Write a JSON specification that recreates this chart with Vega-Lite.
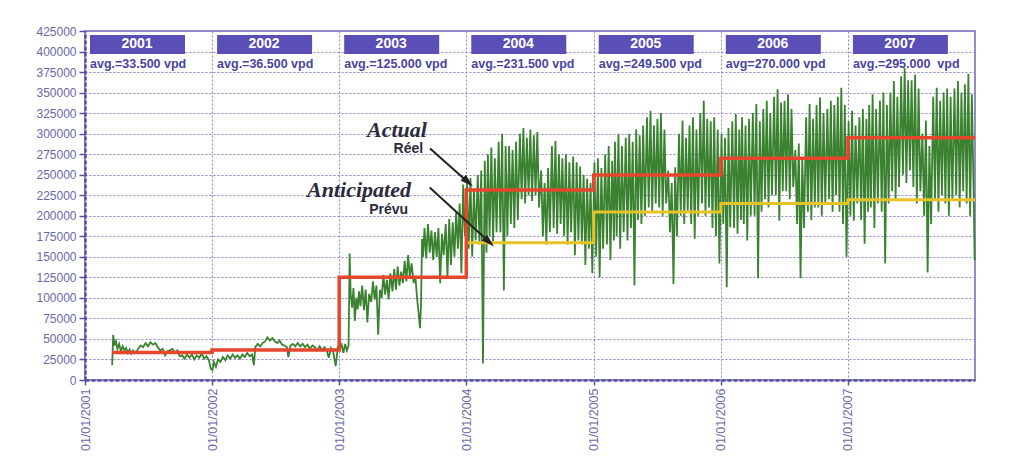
{
  "$schema": "https://vega.github.io/schema/vega-lite/v6.json",
  "width": 890,
  "height": 349,
  "autosize": {"type": "none"},
  "padding": {"left": 85, "top": 31, "right": 49, "bottom": 92},
  "background": "#ffffff",
  "config": {
    "font": "Liberation Sans",
    "view": {"stroke": "#6c68b0", "strokeWidth": 1.5},
    "axisY": {
      "labelOverlap": false, "labelFlush": false,
      "labelFontSize": 12, "labelColor": "#6a68a8", "labelPadding": 3,
      "tickSize": 6, "tickColor": "#5550a0", "tickWidth": 1.5,
      "domainColor": "#5550a0", "domainWidth": 2.5, "domainDash": [4, 2],
      "gridColor": "#8a86c8", "gridDash": [2, 2], "gridWidth": 1
    }
  },
  "datasets": {
    "traffic": [
      {"d":"2001-03-20","v":18000},{"d":"2001-03-23","v":55000},{"d":"2001-03-27","v":42000},{"d":"2001-03-31","v":47000},
      {"d":"2001-04-04","v":38000},{"d":"2001-04-09","v":44000},{"d":"2001-04-14","v":35000},{"d":"2001-04-19","v":41000},{"d":"2001-04-24","v":36000},{"d":"2001-04-29","v":39000},
      {"d":"2001-05-04","v":33000},{"d":"2001-05-09","v":37000},{"d":"2001-05-14","v":32000},{"d":"2001-05-19","v":36000},{"d":"2001-05-24","v":33000},{"d":"2001-05-29","v":35000},
      {"d":"2001-06-03","v":38000},{"d":"2001-06-10","v":42000},{"d":"2001-06-17","v":40000},{"d":"2001-06-24","v":45000},
      {"d":"2001-07-01","v":41000},{"d":"2001-07-08","v":46000},{"d":"2001-07-15","v":43000},{"d":"2001-07-22","v":45000},{"d":"2001-07-29","v":40000},
      {"d":"2001-08-05","v":36000},{"d":"2001-08-12","v":38000},{"d":"2001-08-19","v":30000},{"d":"2001-08-26","v":35000},
      {"d":"2001-09-02","v":36000},{"d":"2001-09-09","v":38000},{"d":"2001-09-16","v":33000},{"d":"2001-09-23","v":36000},{"d":"2001-09-30","v":29000},
      {"d":"2001-10-07","v":30000},{"d":"2001-10-14","v":26000},{"d":"2001-10-21","v":31000},{"d":"2001-10-28","v":27000},
      {"d":"2001-11-04","v":31000},{"d":"2001-11-11","v":25000},{"d":"2001-11-18","v":30000},{"d":"2001-11-25","v":27000},
      {"d":"2001-12-02","v":32000},{"d":"2001-12-09","v":26000},{"d":"2001-12-16","v":29000},{"d":"2001-12-23","v":24000},{"d":"2001-12-28","v":14000},
      {"d":"2002-01-02","v":12000},{"d":"2002-01-06","v":22000},{"d":"2002-01-12","v":16000},{"d":"2002-01-18","v":25000},{"d":"2002-01-25","v":22000},
      {"d":"2002-02-01","v":28000},{"d":"2002-02-08","v":24000},{"d":"2002-02-15","v":30000},{"d":"2002-02-22","v":26000},
      {"d":"2002-03-01","v":31000},{"d":"2002-03-08","v":27000},{"d":"2002-03-15","v":30000},{"d":"2002-03-22","v":26000},{"d":"2002-03-29","v":31000},
      {"d":"2002-04-05","v":28000},{"d":"2002-04-12","v":33000},{"d":"2002-04-19","v":29000},{"d":"2002-04-26","v":31000},
      {"d":"2002-05-01","v":18000},{"d":"2002-05-05","v":40000},{"d":"2002-05-12","v":44000},{"d":"2002-05-19","v":41000},{"d":"2002-05-26","v":45000},
      {"d":"2002-06-02","v":47000},{"d":"2002-06-09","v":52000},{"d":"2002-06-16","v":48000},{"d":"2002-06-23","v":51000},{"d":"2002-06-30","v":47000},
      {"d":"2002-07-07","v":45000},{"d":"2002-07-14","v":48000},{"d":"2002-07-21","v":43000},{"d":"2002-07-28","v":42000},
      {"d":"2002-08-04","v":40000},{"d":"2002-08-08","v":28000},{"d":"2002-08-14","v":42000},{"d":"2002-08-21","v":44000},{"d":"2002-08-28","v":41000},
      {"d":"2002-09-04","v":45000},{"d":"2002-09-11","v":41000},{"d":"2002-09-18","v":44000},{"d":"2002-09-25","v":40000},
      {"d":"2002-10-02","v":43000},{"d":"2002-10-09","v":38000},{"d":"2002-10-16","v":42000},{"d":"2002-10-23","v":40000},{"d":"2002-10-30","v":36000},
      {"d":"2002-11-06","v":41000},{"d":"2002-11-13","v":36000},{"d":"2002-11-20","v":40000},{"d":"2002-11-27","v":35000},
      {"d":"2002-12-02","v":27000},{"d":"2002-12-08","v":39000},{"d":"2002-12-15","v":34000},{"d":"2002-12-22","v":17000},{"d":"2002-12-28","v":40000},
      {"d":"2003-01-03","v":38000},{"d":"2003-01-08","v":43000},{"d":"2003-01-13","v":33000},{"d":"2003-01-18","v":44000},{"d":"2003-01-23","v":36000},{"d":"2003-01-28","v":42000},{"d":"2003-01-31","v":154000},
      {"d":"2003-02-03","v":105000},{"d":"2003-02-07","v":88000},{"d":"2003-02-11","v":112000},{"d":"2003-02-15","v":72000},{"d":"2003-02-19","v":100000},{"d":"2003-02-23","v":86000},{"d":"2003-02-27","v":108000},
      {"d":"2003-03-03","v":90000},{"d":"2003-03-08","v":115000},{"d":"2003-03-13","v":85000},{"d":"2003-03-18","v":110000},{"d":"2003-03-23","v":70000},{"d":"2003-03-28","v":105000},
      {"d":"2003-04-03","v":95000},{"d":"2003-04-08","v":120000},{"d":"2003-04-13","v":98000},{"d":"2003-04-18","v":115000},{"d":"2003-04-23","v":55000},{"d":"2003-04-28","v":110000},
      {"d":"2003-05-03","v":100000},{"d":"2003-05-08","v":128000},{"d":"2003-05-13","v":104000},{"d":"2003-05-18","v":122000},{"d":"2003-05-23","v":98000},{"d":"2003-05-28","v":130000},
      {"d":"2003-06-03","v":108000},{"d":"2003-06-08","v":135000},{"d":"2003-06-13","v":110000},{"d":"2003-06-18","v":138000},{"d":"2003-06-23","v":115000},{"d":"2003-06-28","v":132000},
      {"d":"2003-07-03","v":118000},{"d":"2003-07-08","v":145000},{"d":"2003-07-13","v":120000},{"d":"2003-07-18","v":152000},{"d":"2003-07-23","v":125000},{"d":"2003-07-28","v":142000},
      {"d":"2003-08-03","v":118000},{"d":"2003-08-08","v":125000},{"d":"2003-08-13","v":98000},{"d":"2003-08-17","v":82000},{"d":"2003-08-21","v":63000},{"d":"2003-08-24","v":91000},{"d":"2003-08-27","v":172000},{"d":"2003-08-30","v":150000},
      {"d":"2003-09-03","v":185000},{"d":"2003-09-08","v":148000},{"d":"2003-09-13","v":190000},{"d":"2003-09-18","v":155000},{"d":"2003-09-23","v":182000},{"d":"2003-09-28","v":146000},
      {"d":"2003-10-03","v":180000},{"d":"2003-10-08","v":150000},{"d":"2003-10-13","v":185000},{"d":"2003-10-18","v":118000},{"d":"2003-10-23","v":178000},{"d":"2003-10-28","v":152000},
      {"d":"2003-11-03","v":190000},{"d":"2003-11-08","v":125000},{"d":"2003-11-13","v":196000},{"d":"2003-11-18","v":140000},{"d":"2003-11-23","v":192000},{"d":"2003-11-28","v":150000},
      {"d":"2003-12-03","v":205000},{"d":"2003-12-08","v":160000},{"d":"2003-12-13","v":215000},{"d":"2003-12-18","v":130000},{"d":"2003-12-23","v":238000},{"d":"2003-12-28","v":175000},
      {"d":"2004-01-03","v":240000},{"d":"2004-01-08","v":160000},{"d":"2004-01-13","v":246000},{"d":"2004-01-18","v":150000},{"d":"2004-01-23","v":232000},{"d":"2004-01-28","v":170000},
      {"d":"2004-02-03","v":250000},{"d":"2004-02-08","v":165000},{"d":"2004-02-13","v":255000},{"d":"2004-02-18","v":20000},{"d":"2004-02-23","v":267000},{"d":"2004-02-28","v":155000},
      {"d":"2004-03-03","v":275000},{"d":"2004-03-08","v":175000},{"d":"2004-03-13","v":283000},{"d":"2004-03-18","v":168000},{"d":"2004-03-23","v":270000},{"d":"2004-03-28","v":180000},
      {"d":"2004-04-03","v":290000},{"d":"2004-04-08","v":180000},{"d":"2004-04-13","v":300000},{"d":"2004-04-18","v":109000},{"d":"2004-04-23","v":285000},{"d":"2004-04-28","v":175000},
      {"d":"2004-05-03","v":285000},{"d":"2004-05-08","v":190000},{"d":"2004-05-13","v":280000},{"d":"2004-05-18","v":185000},{"d":"2004-05-23","v":290000},{"d":"2004-05-28","v":195000},
      {"d":"2004-06-03","v":300000},{"d":"2004-06-08","v":220000},{"d":"2004-06-13","v":307000},{"d":"2004-06-18","v":215000},{"d":"2004-06-23","v":295000},{"d":"2004-06-28","v":225000},
      {"d":"2004-07-03","v":305000},{"d":"2004-07-08","v":218000},{"d":"2004-07-13","v":298000},{"d":"2004-07-18","v":225000},{"d":"2004-07-23","v":302000},{"d":"2004-07-28","v":210000},
      {"d":"2004-08-03","v":255000},{"d":"2004-08-08","v":175000},{"d":"2004-08-13","v":240000},{"d":"2004-08-18","v":165000},{"d":"2004-08-23","v":258000},{"d":"2004-08-28","v":180000},
      {"d":"2004-09-03","v":285000},{"d":"2004-09-08","v":185000},{"d":"2004-09-13","v":291000},{"d":"2004-09-18","v":178000},{"d":"2004-09-23","v":275000},{"d":"2004-09-28","v":190000},
      {"d":"2004-10-03","v":270000},{"d":"2004-10-08","v":175000},{"d":"2004-10-13","v":275000},{"d":"2004-10-18","v":165000},{"d":"2004-10-23","v":265000},{"d":"2004-10-28","v":180000},
      {"d":"2004-11-03","v":272000},{"d":"2004-11-08","v":152000},{"d":"2004-11-13","v":265000},{"d":"2004-11-18","v":170000},{"d":"2004-11-23","v":260000},{"d":"2004-11-28","v":165000},
      {"d":"2004-12-03","v":250000},{"d":"2004-12-08","v":140000},{"d":"2004-12-13","v":245000},{"d":"2004-12-18","v":160000},{"d":"2004-12-23","v":240000},{"d":"2004-12-28","v":130000},
      {"d":"2005-01-03","v":265000},{"d":"2005-01-08","v":150000},{"d":"2005-01-13","v":270000},{"d":"2005-01-18","v":125000},{"d":"2005-01-23","v":258000},{"d":"2005-01-28","v":160000},
      {"d":"2005-02-03","v":275000},{"d":"2005-02-08","v":165000},{"d":"2005-02-13","v":285000},{"d":"2005-02-18","v":146000},{"d":"2005-02-23","v":267000},{"d":"2005-02-28","v":170000},
      {"d":"2005-03-03","v":290000},{"d":"2005-03-08","v":175000},{"d":"2005-03-13","v":300000},{"d":"2005-03-18","v":160000},{"d":"2005-03-23","v":285000},{"d":"2005-03-28","v":180000},
      {"d":"2005-04-03","v":295000},{"d":"2005-04-08","v":170000},{"d":"2005-04-13","v":300000},{"d":"2005-04-18","v":185000},{"d":"2005-04-23","v":290000},{"d":"2005-04-28","v":115000},
      {"d":"2005-05-03","v":305000},{"d":"2005-05-08","v":195000},{"d":"2005-05-13","v":298000},{"d":"2005-05-18","v":190000},{"d":"2005-05-23","v":310000},{"d":"2005-05-28","v":200000},
      {"d":"2005-06-03","v":320000},{"d":"2005-06-08","v":210000},{"d":"2005-06-13","v":328000},{"d":"2005-06-18","v":205000},{"d":"2005-06-23","v":310000},{"d":"2005-06-28","v":215000},
      {"d":"2005-07-03","v":318000},{"d":"2005-07-08","v":210000},{"d":"2005-07-13","v":325000},{"d":"2005-07-18","v":200000},{"d":"2005-07-23","v":305000},{"d":"2005-07-28","v":215000},
      {"d":"2005-08-03","v":255000},{"d":"2005-08-08","v":180000},{"d":"2005-08-13","v":240000},{"d":"2005-08-18","v":117000},{"d":"2005-08-23","v":259000},{"d":"2005-08-28","v":175000},
      {"d":"2005-09-03","v":300000},{"d":"2005-09-08","v":200000},{"d":"2005-09-13","v":316000},{"d":"2005-09-18","v":190000},{"d":"2005-09-23","v":295000},{"d":"2005-09-28","v":205000},
      {"d":"2005-10-03","v":310000},{"d":"2005-10-08","v":190000},{"d":"2005-10-13","v":320000},{"d":"2005-10-18","v":172000},{"d":"2005-10-23","v":305000},{"d":"2005-10-28","v":200000},
      {"d":"2005-11-03","v":325000},{"d":"2005-11-08","v":215000},{"d":"2005-11-13","v":340000},{"d":"2005-11-18","v":200000},{"d":"2005-11-23","v":318000},{"d":"2005-11-28","v":210000},
      {"d":"2005-12-03","v":315000},{"d":"2005-12-08","v":185000},{"d":"2005-12-13","v":320000},{"d":"2005-12-18","v":175000},{"d":"2005-12-23","v":305000},{"d":"2005-12-28","v":142000},
      {"d":"2006-01-03","v":300000},{"d":"2006-01-08","v":190000},{"d":"2006-01-13","v":295000},{"d":"2006-01-18","v":113000},{"d":"2006-01-23","v":307000},{"d":"2006-01-28","v":186000},
      {"d":"2006-02-03","v":315000},{"d":"2006-02-08","v":185000},{"d":"2006-02-13","v":324000},{"d":"2006-02-18","v":178000},{"d":"2006-02-23","v":305000},{"d":"2006-02-28","v":195000},
      {"d":"2006-03-03","v":320000},{"d":"2006-03-08","v":190000},{"d":"2006-03-13","v":310000},{"d":"2006-03-18","v":170000},{"d":"2006-03-23","v":318000},{"d":"2006-03-28","v":200000},
      {"d":"2006-04-03","v":325000},{"d":"2006-04-08","v":200000},{"d":"2006-04-13","v":336000},{"d":"2006-04-18","v":124000},{"d":"2006-04-23","v":315000},{"d":"2006-04-28","v":205000},
      {"d":"2006-05-03","v":330000},{"d":"2006-05-08","v":220000},{"d":"2006-05-13","v":340000},{"d":"2006-05-18","v":210000},{"d":"2006-05-23","v":325000},{"d":"2006-05-28","v":225000},
      {"d":"2006-06-03","v":345000},{"d":"2006-06-08","v":225000},{"d":"2006-06-13","v":354000},{"d":"2006-06-18","v":194000},{"d":"2006-06-23","v":338000},{"d":"2006-06-28","v":230000},
      {"d":"2006-07-03","v":340000},{"d":"2006-07-08","v":230000},{"d":"2006-07-13","v":348000},{"d":"2006-07-18","v":220000},{"d":"2006-07-23","v":330000},{"d":"2006-07-28","v":235000},
      {"d":"2006-08-03","v":280000},{"d":"2006-08-08","v":190000},{"d":"2006-08-13","v":288000},{"d":"2006-08-18","v":124000},{"d":"2006-08-23","v":270000},{"d":"2006-08-28","v":185000},
      {"d":"2006-09-03","v":320000},{"d":"2006-09-08","v":205000},{"d":"2006-09-13","v":336000},{"d":"2006-09-18","v":195000},{"d":"2006-09-23","v":318000},{"d":"2006-09-28","v":210000},
      {"d":"2006-10-03","v":335000},{"d":"2006-10-08","v":210000},{"d":"2006-10-13","v":344000},{"d":"2006-10-18","v":200000},{"d":"2006-10-23","v":325000},{"d":"2006-10-28","v":215000},
      {"d":"2006-11-03","v":330000},{"d":"2006-11-08","v":220000},{"d":"2006-11-13","v":340000},{"d":"2006-11-18","v":205000},{"d":"2006-11-23","v":335000},{"d":"2006-11-28","v":225000},
      {"d":"2006-12-03","v":345000},{"d":"2006-12-08","v":205000},{"d":"2006-12-13","v":356000},{"d":"2006-12-18","v":190000},{"d":"2006-12-23","v":335000},{"d":"2006-12-28","v":150000},
      {"d":"2007-01-03","v":315000},{"d":"2007-01-08","v":200000},{"d":"2007-01-13","v":328000},{"d":"2007-01-18","v":194000},{"d":"2007-01-23","v":310000},{"d":"2007-01-28","v":215000},
      {"d":"2007-02-03","v":320000},{"d":"2007-02-08","v":195000},{"d":"2007-02-13","v":330000},{"d":"2007-02-18","v":166000},{"d":"2007-02-23","v":318000},{"d":"2007-02-28","v":205000},
      {"d":"2007-03-03","v":335000},{"d":"2007-03-08","v":210000},{"d":"2007-03-13","v":348000},{"d":"2007-03-18","v":185000},{"d":"2007-03-23","v":330000},{"d":"2007-03-28","v":215000},
      {"d":"2007-04-03","v":340000},{"d":"2007-04-08","v":205000},{"d":"2007-04-13","v":350000},{"d":"2007-04-18","v":142000},{"d":"2007-04-23","v":335000},{"d":"2007-04-28","v":215000},
      {"d":"2007-05-03","v":350000},{"d":"2007-05-08","v":230000},{"d":"2007-05-13","v":364000},{"d":"2007-05-18","v":220000},{"d":"2007-05-23","v":345000},{"d":"2007-05-28","v":235000},
      {"d":"2007-06-03","v":370000},{"d":"2007-06-08","v":250000},{"d":"2007-06-13","v":380000},{"d":"2007-06-18","v":240000},{"d":"2007-06-23","v":365000},{"d":"2007-06-28","v":255000},
      {"d":"2007-07-03","v":365000},{"d":"2007-07-08","v":235000},{"d":"2007-07-13","v":372000},{"d":"2007-07-18","v":215000},{"d":"2007-07-23","v":355000},{"d":"2007-07-28","v":230000},
      {"d":"2007-08-03","v":300000},{"d":"2007-08-08","v":200000},{"d":"2007-08-13","v":316000},{"d":"2007-08-18","v":131000},{"d":"2007-08-23","v":285000},{"d":"2007-08-28","v":190000},
      {"d":"2007-09-03","v":345000},{"d":"2007-09-08","v":220000},{"d":"2007-09-13","v":356000},{"d":"2007-09-18","v":205000},{"d":"2007-09-23","v":340000},{"d":"2007-09-28","v":225000},
      {"d":"2007-10-03","v":350000},{"d":"2007-10-08","v":215000},{"d":"2007-10-13","v":355000},{"d":"2007-10-18","v":200000},{"d":"2007-10-23","v":345000},{"d":"2007-10-28","v":220000},
      {"d":"2007-11-03","v":355000},{"d":"2007-11-08","v":225000},{"d":"2007-11-13","v":364000},{"d":"2007-11-18","v":210000},{"d":"2007-11-23","v":350000},{"d":"2007-11-28","v":230000},
      {"d":"2007-12-03","v":360000},{"d":"2007-12-08","v":215000},{"d":"2007-12-13","v":373000},{"d":"2007-12-18","v":200000},{"d":"2007-12-23","v":348000},{"d":"2007-12-28","v":230000},{"d":"2007-12-31","v":146000}
    ],
    "actual": [
      {"d":"2001-03-20","v":33500},{"d":"2002-01-01","v":36500},{"d":"2003-01-01","v":125000},{"d":"2004-01-01","v":231500},
      {"d":"2005-01-01","v":249500},{"d":"2006-01-01","v":270000},{"d":"2007-01-01","v":295000},{"d":"2008-01-01","v":295000}
    ],
    "anticipated": [
      {"d":"2004-01-01","v":167000},{"d":"2005-01-01","v":204500},{"d":"2006-01-01","v":215000},{"d":"2007-01-01","v":219500},{"d":"2008-01-01","v":219500}
    ],
    "headers": [
      {"d":"2001-01-01","year":"2001","avg":"avg.=33.500 vpd"},
      {"d":"2002-01-01","year":"2002","avg":"avg.=36.500 vpd"},
      {"d":"2003-01-01","year":"2003","avg":"avg.=125.000 vpd"},
      {"d":"2004-01-01","year":"2004","avg":"avg.=231.500 vpd"},
      {"d":"2005-01-01","year":"2005","avg":"avg.=249.500 vpd"},
      {"d":"2006-01-01","year":"2006","avg":"avg=270.000 vpd"},
      {"d":"2007-01-01","year":"2007","avg":"avg.=295.000\u00a0 vpd"}
    ],
    "notes": [
      {"d":"2003-09-10","v":296300,"t":"Actual","k":"big"},
      {"d":"2003-08-30","v":276000,"t":"Réel","k":"small"},
      {"d":"2003-07-26","v":223400,"t":"Anticipated","k":"big"},
      {"d":"2003-07-18","v":201600,"t":"Prévu","k":"small"}
    ],
    "arrows": [
      {"d":"2003-09-19","v":282000,"d2":"2004-01-06","v2":240900},
      {"d":"2003-09-18","v":234400,"d2":"2004-03-07","v2":168100}
    ],
    "heads": [
      {"d":"2004-01-06","v":240900},
      {"d":"2004-03-07","v":168100}
    ]
  },
  "encoding": {
    "x": {
      "field": "d", "type": "temporal", "title": null,
      "scale": {"type": "utc", "domain": [{"year":2001,"month":1,"date":1,"utc":true},{"year":2008,"month":1,"date":1,"utc":true}]},
      "axis": {
        "title": null,
        "values": [
          {"year":2001,"month":1,"date":1,"utc":true},{"year":2002,"month":1,"date":1,"utc":true},{"year":2003,"month":1,"date":1,"utc":true},
          {"year":2004,"month":1,"date":1,"utc":true},{"year":2005,"month":1,"date":1,"utc":true},{"year":2006,"month":1,"date":1,"utc":true},
          {"year":2007,"month":1,"date":1,"utc":true}
        ],
        "labelExpr": "utcFormat(datum.value, '%d/%m/%Y')",
        "labelAngle": -90, "labelAlign": "right", "labelBaseline": "middle",
        "labelPadding": 3, "labelFontSize": 12.5, "labelColor": "#6a68a8",
        "labelOverlap": false, "labelFlush": false,
        "tickColor": "#5550a0", "tickSize": 5, "tickWidth": 1.5,
        "domainColor": "#5550a0", "domainWidth": 2.5, "domainDash": [4, 2],
        "gridColor": "#8a86c8", "gridDash": [2, 2], "gridWidth": 1
      }
    }
  },
  "layer": [
    {
      "data": {"name": "traffic"},
      "mark": {"type": "line", "stroke": "#3a8230", "strokeWidth": 1.8, "interpolate": "linear"},
      "encoding": {
        "y": {
          "field": "v", "type": "quantitative", "title": null,
          "scale": {"domain": [0, 425000], "nice": false},
          "axis": {"title": null, "format": "d", "values": [0,25000,50000,75000,100000,125000,150000,175000,200000,225000,250000,275000,300000,325000,350000,375000,400000,425000]}
        }
      }
    },
    {
      "data": {"name": "anticipated"},
      "mark": {"type": "line", "stroke": "#e8c327", "strokeWidth": 3, "interpolate": "step-after"},
      "encoding": {"y": {"field": "v", "type": "quantitative", "title": null, "axis": {"title": null, "format": "d", "values": [0,25000,50000,75000,100000,125000,150000,175000,200000,225000,250000,275000,300000,325000,350000,375000,400000,425000]}}}
    },
    {
      "data": {"name": "actual"},
      "mark": {"type": "line", "stroke": "#e8452d", "strokeWidth": 3.5, "interpolate": "step-after"},
      "encoding": {"y": {"field": "v", "type": "quantitative", "title": null, "axis": {"title": null, "format": "d", "values": [0,25000,50000,75000,100000,125000,150000,175000,200000,225000,250000,275000,300000,325000,350000,375000,400000,425000]}}}
    },
    {
      "data": {"name": "headers"},
      "mark": {"type": "rect", "fill": "#5a4fb6", "xOffset": 5, "x2Offset": 100},
      "encoding": {"x2": {"field": "d"}, "y": {"datum": 420000, "type": "quantitative", "title": null, "axis": {"title": null, "format": "d", "values": [0,25000,50000,75000,100000,125000,150000,175000,200000,225000,250000,275000,300000,325000,350000,375000,400000,425000]}}, "y2": {"datum": 397000}}
    },
    {
      "data": {"name": "headers"},
      "mark": {"type": "text", "dx": 52, "align": "center", "baseline": "middle", "fill": "#ffffff", "fontWeight": "bold", "fontSize": 14},
      "encoding": {"y": {"datum": 408600, "type": "quantitative", "title": null, "axis": {"title": null, "format": "d", "values": [0,25000,50000,75000,100000,125000,150000,175000,200000,225000,250000,275000,300000,325000,350000,375000,400000,425000]}}, "text": {"field": "year"}}
    },
    {
      "data": {"name": "headers"},
      "mark": {"type": "text", "dx": 5, "align": "left", "baseline": "alphabetic", "fill": "#4845a0", "fontWeight": "bold", "fontSize": 12.5},
      "encoding": {"y": {"datum": 380000, "type": "quantitative", "title": null, "axis": {"title": null, "format": "d", "values": [0,25000,50000,75000,100000,125000,150000,175000,200000,225000,250000,275000,300000,325000,350000,375000,400000,425000]}}, "text": {"field": "avg"}}
    },
    {
      "data": {"name": "notes"},
      "transform": [{"filter": "datum.k == 'big'"}],
      "mark": {"type": "text", "align": "right", "baseline": "alphabetic", "font": "Liberation Serif", "fontStyle": "italic", "fontWeight": "bold", "fontSize": 22, "fill": "#2b2b3b"},
      "encoding": {"y": {"field": "v", "type": "quantitative", "title": null, "axis": {"title": null, "format": "d", "values": [0,25000,50000,75000,100000,125000,150000,175000,200000,225000,250000,275000,300000,325000,350000,375000,400000,425000]}}, "text": {"field": "t"}}
    },
    {
      "data": {"name": "notes"},
      "transform": [{"filter": "datum.k == 'small'"}],
      "mark": {"type": "text", "align": "right", "baseline": "alphabetic", "fontWeight": "bold", "fontSize": 14, "fill": "#2b2b3b"},
      "encoding": {"y": {"field": "v", "type": "quantitative", "title": null, "axis": {"title": null, "format": "d", "values": [0,25000,50000,75000,100000,125000,150000,175000,200000,225000,250000,275000,300000,325000,350000,375000,400000,425000]}}, "text": {"field": "t"}}
    },
    {
      "data": {"name": "arrows"},
      "mark": {"type": "rule", "stroke": "#222222", "strokeWidth": 2},
      "encoding": {"y": {"field": "v", "type": "quantitative", "title": null, "axis": {"title": null, "format": "d", "values": [0,25000,50000,75000,100000,125000,150000,175000,200000,225000,250000,275000,300000,325000,350000,375000,400000,425000]}}, "x2": {"field": "d2"}, "y2": {"field": "v2"}}
    },
    {
      "data": {"name": "heads"},
      "mark": {"type": "point", "shape": "M0,-1L0.6,1L-0.6,1Z", "filled": true, "fill": "#222222", "opacity": 1, "size": 170, "angle": 133},
      "encoding": {"y": {"field": "v", "type": "quantitative", "title": null, "axis": {"title": null, "format": "d", "values": [0,25000,50000,75000,100000,125000,150000,175000,200000,225000,250000,275000,300000,325000,350000,375000,400000,425000]}}}
    }
  ]
}
